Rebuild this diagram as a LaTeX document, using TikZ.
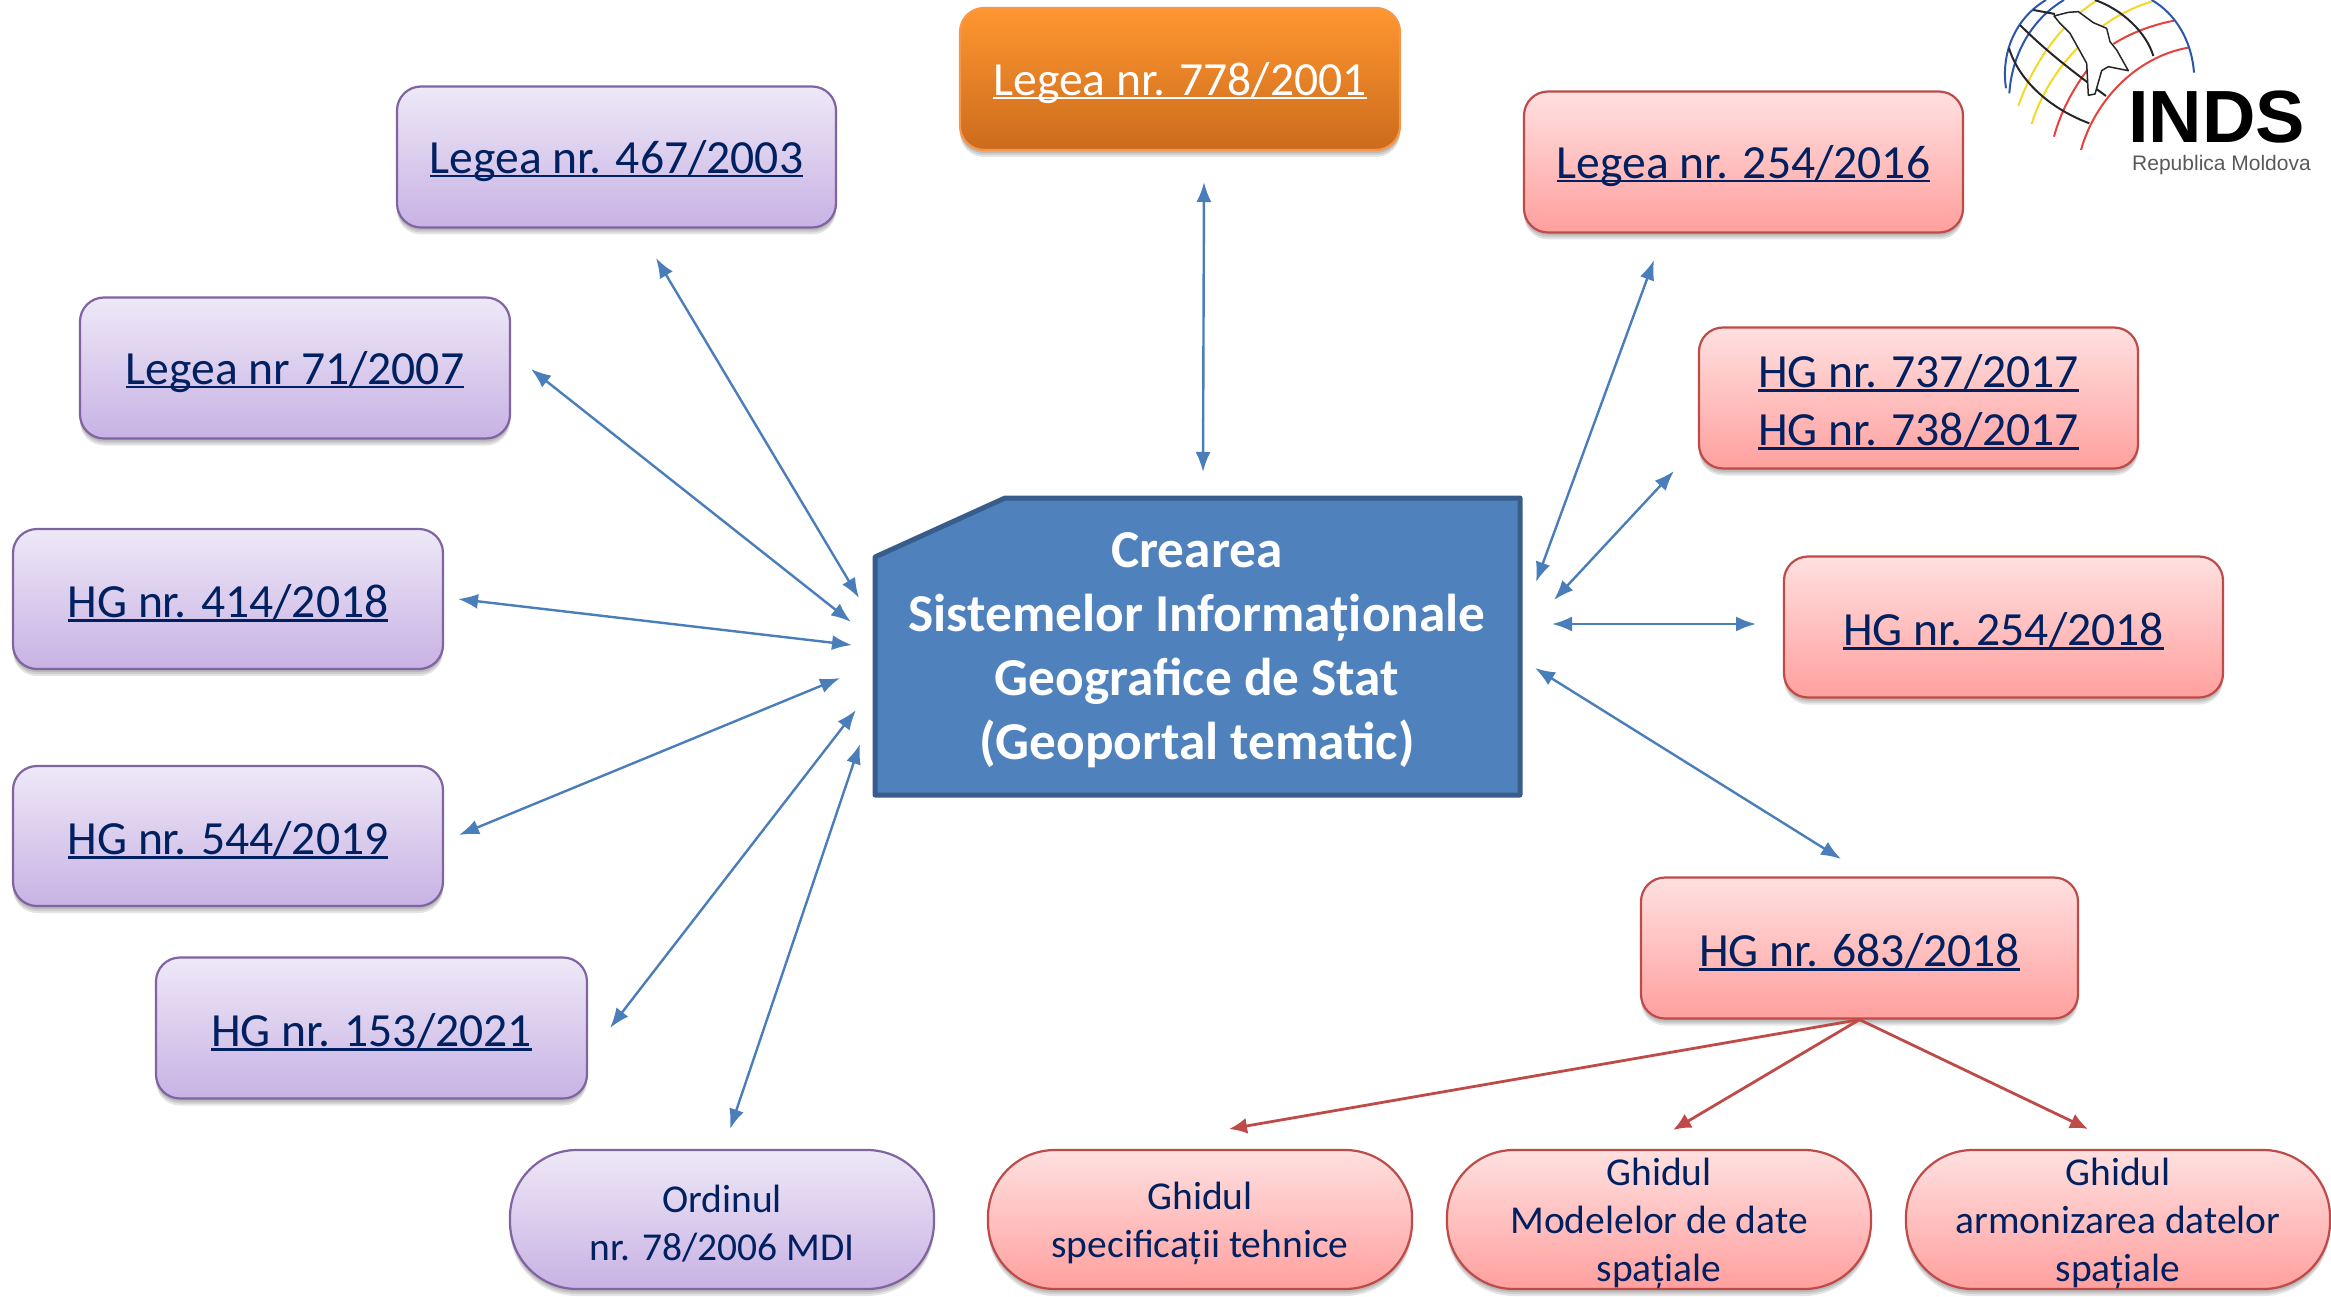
\documentclass[tikz,border=0pt]{standalone}
\usepackage{fontspec}
\setmainfont{Carlito}
\newfontfamily\logofont{Liberation Sans}
\usetikzlibrary{arrows.meta}
\newsavebox{\ulbox}
\newcommand{\dn}[1]{\raisebox{-4pt}[\height][\depth]{#1}}
\newcommand{\ulnk}[1]{\sbox{\ulbox}{#1}\dn{\rlap{\rule[-0.085em]{\wd\ulbox}{0.055em}}\usebox{\ulbox}}}
\definecolor{navy}{HTML}{002060}
\definecolor{arrowblue}{HTML}{4A7EBB}
\definecolor{arrowred}{HTML}{BE4B48}
\definecolor{mainfill}{HTML}{4F81BD}
\definecolor{mainline}{HTML}{385D8A}
\definecolor{purpleline}{RGB}{128,100,162}
\definecolor{orangeline}{RGB}{247,150,70}
\definecolor{logoB}{RGB}{45,85,170}
\definecolor{logoY}{RGB}{245,215,40}
\definecolor{logoR}{RGB}{230,65,60}
\tikzset{
  softshadow/.style={
    preaction={draw=none,fill=black,fill opacity=.10,transform canvas={yshift=-3pt}},
    preaction={draw=none,fill=black,fill opacity=.10,transform canvas={yshift=-5pt}},
    preaction={draw=none,fill=black,fill opacity=.10,transform canvas={yshift=-7pt}}},
  boxbase/.style={rectangle,rounded corners=24pt,inner sep=0pt,align=center,line width=2.2pt,text=navy,
    font=\fontsize{47.6}{58}\selectfont,softshadow},
  purplebox/.style={boxbase,draw=purpleline,top color={rgb,255:red,238;green,232;blue,247},bottom color={rgb,255:red,200;green,178;blue,228}},
  pinkbox/.style={boxbase,draw=arrowred,top color={rgb,255:red,255;green,224;blue,224},bottom color={rgb,255:red,255;green,160;blue,158}},
  orangebox/.style={boxbase,draw=orangeline,top color={rgb,255:red,255;green,150;blue,48},bottom color={rgb,255:red,203;green,107;blue,28},text=white},
  pill/.style={rounded corners=67pt,font=\fontsize{39.5}{48}\selectfont},
  link/.style={line width=2.4pt,draw=arrowblue,{Latex[length=20pt,width=15pt]}-{Latex[length=20pt,width=15pt]}},
  redlink/.style={line width=2.8pt,draw=arrowred,-{Latex[length=18pt,width=16pt]}},
  mainbox/.style={line width=5pt,draw=mainline,fill=mainfill,line join=round},
  maintext/.style={text=white,align=center,font=\fontsize{53.3}{64}\selectfont\bfseries},
  logoblue/.style={draw=logoB,line width=2pt},
  logoyellow/.style={draw=logoY,line width=2pt},
  logored/.style={draw=logoR,line width=2pt},
  logoblack/.style={draw=black!85,line width=2pt},
}
\begin{document}
\begin{tikzpicture}[x=1pt,y=-1pt]
\useasboundingbox (0,0) rectangle (2331,1297);

% main block
\draw[mainbox] (875,557) -- (1005,498) -- (1520,498) -- (1520,795) -- (875,795) -- cycle;
\node[maintext] (main) at (1197,646) {\dn{Crearea}\\\dn{Sistemelor Informaționale}\\\dn{Geografice de Stat}\\\dn{(Geoportal tematic)}};

% boxes
\node[purplebox,minimum width=439pt,minimum height=141pt] (l467) at (616.5,157) {\ulnk{Legea nr. 467/2003}};
\node[orangebox,minimum width=440pt,minimum height=142pt] (l778) at (1180,79) {\ulnk{Legea nr. 778/2001}};
\node[pinkbox,minimum width=439pt,minimum height=141pt] (l254) at (1743.5,162) {\ulnk{Legea nr. 254/2016}};
\node[pinkbox,minimum width=439pt,minimum height=141pt] (hg737) at (1918.5,398) {\ulnk{HG nr. 737/2017}\\\ulnk{HG nr. 738/2017}};
\node[pinkbox,minimum width=439pt,minimum height=141pt] (hg254) at (2003.5,627) {\ulnk{HG nr. 254/2018}};
\node[pinkbox,minimum width=437pt,minimum height=141pt] (hg683) at (1859.5,948) {\ulnk{HG nr. 683/2018}};
\node[purplebox,minimum width=430pt,minimum height=141pt] (l71) at (295,368) {\ulnk{Legea nr 71/2007}};
\node[purplebox,minimum width=430pt,minimum height=140pt] (hg414) at (228,599) {\ulnk{HG nr. 414/2018}};
\node[purplebox,minimum width=430pt,minimum height=140pt] (hg544) at (228,836) {\ulnk{HG nr. 544/2019}};
\node[purplebox,minimum width=431pt,minimum height=141pt] (hg153) at (371.5,1028) {\ulnk{HG nr. 153/2021}};
\node[purplebox,pill,minimum width=424pt,minimum height=139pt] (ord) at (722,1219.5) {\dn{Ordinul}\\\dn{nr. 78/2006 MDI}};
\node[pinkbox,pill,minimum width=424pt,minimum height=139pt] (gspec) at (1200,1219.5) {\dn{Ghidul}\\\dn{specificații tehnice}};
\node[pinkbox,pill,minimum width=424pt,minimum height=139pt] (gmod) at (1659,1219.5) {\dn{Ghidul}\\\dn{Modelelor de date}\\\dn{spațiale}};
\node[pinkbox,pill,minimum width=424pt,minimum height=139pt] (garm) at (2118,1219.5) {\dn{Ghidul}\\\dn{armonizarea datelor}\\\dn{spațiale}};

% connector ends
\coordinate (a1) at (656,258);  \coordinate (b1) at (859,598);
\coordinate (a2) at (531,369);  \coordinate (b2) at (851,622);
\coordinate (a3) at (458,599);  \coordinate (b3) at (852,645);
\coordinate (a4) at (459,835);  \coordinate (b4) at (840,678);
\coordinate (a5) at (610,1028); \coordinate (b5) at (856,710);
\coordinate (a6) at (730,1129); \coordinate (b6) at (860,744);
\coordinate (a7) at (1204,182); \coordinate (b7) at (1203,472);
\coordinate (a8) at (1654,260); \coordinate (b8) at (1536,582);
\coordinate (a9) at (1674,471); \coordinate (b9) at (1554,600);
\coordinate (a10) at (1756,624);\coordinate (b10) at (1552,624);
\coordinate (a11) at (1841,859);\coordinate (b11) at (1535,668);
\coordinate (r1) at (1229,1129);
\coordinate (r2) at (1673,1130);
\coordinate (r3) at (2088,1129);

\foreach \i in {1,...,11}{\draw[link] (a\i) -- (b\i);}
\draw[redlink] (hg683.south) -- (r1);
\draw[redlink] (hg683.south) -- (r2);
\draw[redlink] (hg683.south) -- (r3);

% logo (1 zoomed unit = 1/3 px, origin 1980,0)
\begin{scope}[shift={(1980,0)},x=.3333pt,y=-.3333pt]
\draw[logoblue] (78,265) .. controls (62,160) and (105,55) .. (198,0);
\draw[logoblue] (88,280) .. controls (95,170) and (150,60) .. (252,0);
\draw[logoyellow] (115,318) .. controls (155,200) and (240,70) .. (350,2);
\draw[logoyellow] (155,372) .. controls (200,220) and (340,55) .. (515,5);
\draw[logored] (222,410) .. controls (240,340) and (280,265) .. (322,210);
\draw[logored] (400,132) .. controls (450,100) and (515,75) .. (582,62);
\draw[logored] (303,450) .. controls (345,300) and (470,170) .. (625,143);
\draw[logoblue] (515,0) .. controls (585,40) and (635,120) .. (642,218);
\draw[logoblack] (160,30) -- (225,42);
\draw[logoblack] (120,75) .. controls (180,135) and (250,195) .. (378,288);
\draw[logoblack] (87,145) .. controls (120,250) and (220,330) .. (328,370);
\draw[logoblack] (345,0) .. controls (430,30) and (500,100) .. (520,168);
\draw[logoblack,fill=white,line width=1.5pt,line join=round] (222,48) -- (265,37) -- (295,35) -- (340,68) -- (380,85) -- (390,125) -- (410,150) -- (445,212) -- (385,200) -- (365,212) -- (345,282) -- (325,286) -- (320,190) -- (270,100) -- (240,70) -- cycle;
\end{scope}
\node[anchor=base west,inner sep=0pt,text depth=0pt,font=\logofont\bfseries\fontsize{74}{74}\selectfont,text=black] (inds) at (2128,143) {INDS};
\node[anchor=base west,inner sep=0pt,text height=12pt,font=\logofont\fontsize{21}{21}\selectfont,text=black!65] (rep) at (2132,171) {Republica Moldova};
\end{tikzpicture}
\end{document}
